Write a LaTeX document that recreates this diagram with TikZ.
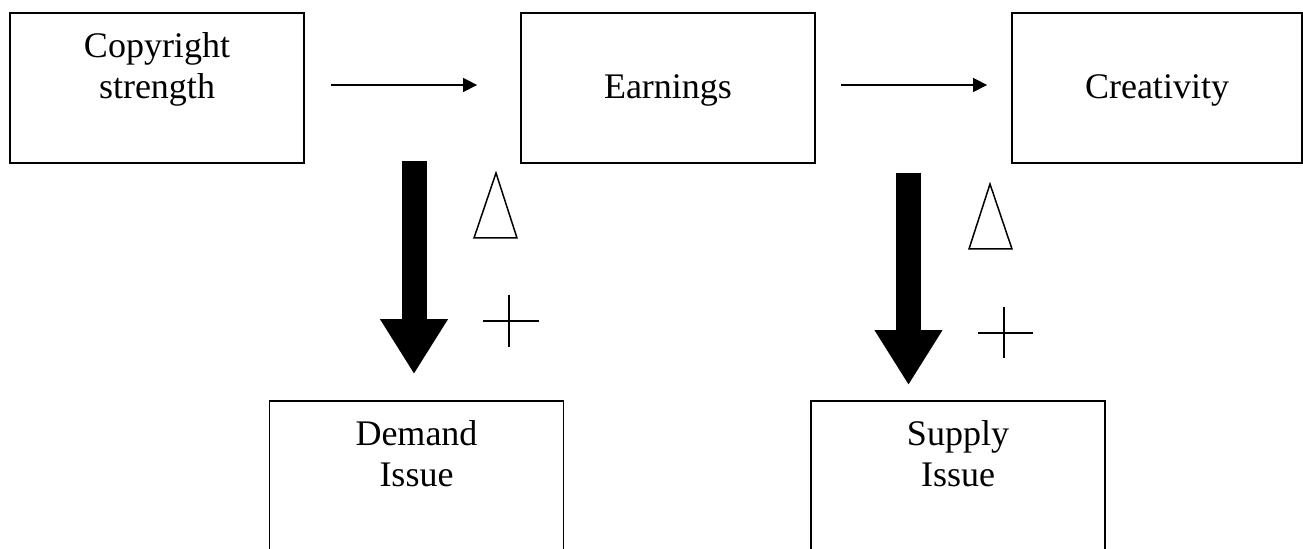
\documentclass[tikz,border=0pt]{standalone}
\usepackage{fontspec}
\setmainfont{Liberation Serif}
\usepackage{tikz}
\usetikzlibrary{arrows.meta, calc}

\begin{document}
\begin{tikzpicture}[
  x=0.5pt, y=-0.5pt,
  box/.style={rectangle, draw, line width=0.9pt, minimum width=147pt,
              minimum height=75pt, inner sep=0pt},
  lbl/.style={font=\fontsize{18}{20.5}\selectfont, align=center, inner sep=0pt, anchor=base},
  thinarrow/.style={line width=0.65pt, -{Triangle[length=7pt, width=7pt]}},
  bigarrow/.style={line width=12.5pt, -{Triangle[length=27.5pt, width=32pt]}},
  mark sign/.style={line width=0.75pt}
]
\useasboundingbox (0,0) rectangle (1303,549);
\clip (0,0) rectangle (1303,549);

% Top row
\node[box] (cs) at (157,88) {};
\node[box] (earn) at (668,88) {};
\node[box, minimum width=145pt] (crea) at (1157,88) {};
\node[lbl] (cstxt) at ([yshift=-43pt]cs.north) {Copyright\\strength};
\node[lbl] (earntxt) at ([yshift=-43pt]earn.north) {Earnings};
\node[lbl] (creatxt) at ([yshift=-43pt]crea.north) {Creativity};

% Bottom row
\node[box] (dem) at (416.5,476) {};
\node[box] (sup) at (958,476) {};
\node[lbl] (demtxt) at ([yshift=-43pt]dem.north) {Demand\\Issue};
\node[lbl] (suptxt) at ([yshift=-43pt]sup.north) {Supply\\Issue};

% Thin arrows
\draw[thinarrow, shorten <=13pt, shorten >=21.5pt] (cs.east |- 0,85) -- (earn.west |- 0,85);
\draw[thinarrow, shorten <=12.5pt, shorten >=12pt] (earn.east |- 0,85) -- (crea.west |- 0,85);

% Thick arrows
\coordinate (dtop) at (414,161);
\coordinate (stop) at (908.5,173);
\draw[bigarrow, shorten >=13pt] (dtop) -- (dtop |- dem.north);
\draw[bigarrow, shorten >=7.5pt] (stop) -- (stop |- sup.north);

% Delta and plus signs
\draw[mark sign] (496,173) -- (517,238) -- (474,238) -- cycle;
\draw[mark sign] (483,321) -- (539,321) (509,295) -- (509,347);
\draw[mark sign] (990,184) -- (1012,249) -- (969,249) -- cycle;
\draw[mark sign] (978,333) -- (1033,333) (1004,307) -- (1004,358);

\end{tikzpicture}
\end{document}
